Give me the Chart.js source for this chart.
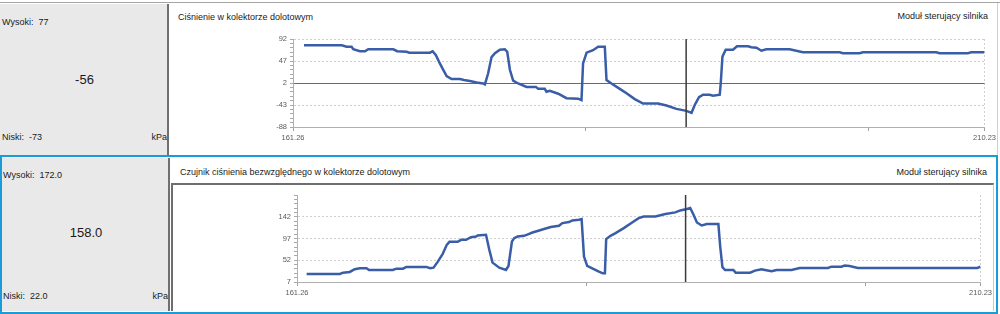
<!DOCTYPE html>
<html>
<head>
<meta charset="utf-8">
<script src="https://cdn.jsdelivr.net/npm/chart.js@4.4.0/dist/chart.umd.min.js"></script>
<style>
  body { margin: 0; width: 1000px; height: 314px; position: relative; background: #fff; overflow: hidden;
         font-family: "Liberation Sans", Arial, sans-serif; color: #1a1a1a; }
  .box { position: absolute; box-sizing: border-box; }
  .txt { position: absolute; font-size: 9px; line-height: 12px; white-space: pre; }
  .big { position: absolute; font-size: 13px; line-height: 16px; text-align: center; }
  canvas { position: absolute; }
</style>
</head>
<body>
<!-- top panel -->
<div class="box" style="left:0;top:2px;width:1000px;height:1px;background:#a5a5a5"></div>
<div class="box" style="left:0;top:4px;width:169px;height:151px;background:#e9e9e9;border-right:2px solid #707070"></div>
<div class="box" style="left:997px;top:3px;width:1px;height:152px;background:#d0d0d0"></div>
<div class="txt" id="topHigh" style="left:2px;top:16px"></div>
<div class="big" id="topValue" style="left:0;width:169px;top:72px"></div>
<div class="txt" id="topLow" style="left:2px;top:131px"></div>
<div class="txt" style="left:0;width:167px;text-align:right;top:131px">kPa</div>
<div class="txt" id="topTitle" style="left:178px;top:11px"></div>
<div class="txt" style="right:12px;top:10px">Moduł sterujący silnika</div>
<canvas id="topChart" width="828" height="122" style="left:170px;top:28px"></canvas>

<!-- bottom panel (selected) -->
<div class="box" style="left:0;top:155px;width:998px;height:159px;border:2px solid #1b9bd7"></div>
<div class="box" style="left:2px;top:158px;width:168px;height:153px;background:#e9e9e9;border-right:2px solid #707070"></div>
<div class="txt" id="botHigh" style="left:3px;top:169px"></div>
<div class="big" id="botValue" style="left:2px;width:168px;top:225px"></div>
<div class="txt" id="botLow" style="left:3px;top:290px"></div>
<div class="txt" style="left:0;width:168px;text-align:right;top:290px">kPa</div>
<div class="txt" id="botTitle" style="left:180px;top:166px"></div>
<div class="txt" style="right:13px;top:166px">Moduł sterujący silnika</div>
<div class="box" style="left:171px;top:183px;width:823px;height:128px;border-top:2px solid #6e6e6e;border-left:2px solid #6e6e6e;border-right:1px solid #c8c8c8"></div>
<canvas id="botChart" width="822" height="124" style="left:172px;top:185px"></canvas>

<script>
// ===== Data =====
const xMin = 161.26;
const xMax = 210.23;
const xTicks = [161.26, 182, 202, 210.23];
const cursorTime = 189.1;
const minorStep = 9;

// Ciśnienie w kolektorze dolotowym
const topTitle = "Ciśnienie w kolektorze dolotowym";
const topStats = ["77", "-56", "-73"]; // high, current, low
const topMajorTicks = [-88, -43, 2, 47, 92];
const topTime = [162.04, 164.71, 165.06, 165.41, 165.53, 166.0, 166.36, 166.59, 168.36, 168.64,
  169.31, 169.49, 170.96, 171.15, 171.38, 171.66, 171.9, 172.14, 172.49, 173.08,
  173.36, 173.79, 174.26, 174.73, 174.85, 175.08, 175.32, 175.56, 175.91, 176.26,
  176.43, 176.62, 176.85, 177.2, 177.8, 178.46, 178.62, 179.09, 179.21, 179.45,
  180.04, 180.63, 181.45, 181.69, 181.8, 182.05, 182.51, 182.87, 183.34, 183.46,
  183.81, 184.4, 184.88, 185.46, 186.05, 187.11, 187.71, 188.41, 189.12, 189.48,
  189.71, 190.01, 190.3, 190.77, 191.0, 191.48, 191.55, 191.67, 191.9, 192.42,
  192.7, 193.48, 193.72, 194.08, 194.43, 194.78, 196.43, 197.37, 199.97, 200.2,
  201.39, 201.62, 206.81, 207.05, 209.05, 209.29, 210.23];
const topValues = [79, 79, 76, 76, 71, 67, 67, 71, 71, 67,
  66, 64, 64, 67, 59, 42, 29, 16, 10, 10,
  8, 6, 3, 1, -1, 22, 55, 63, 70, 71,
  66, 29, 7, 1, -6, -6, -10, -10, -16, -14,
  -20, -29, -30, -33, 42, 64, 69, 76, 76, 8,
  1, -10, -19, -31, -40, -40, -44, -51, -55, -59,
  -43, -27, -22, -22, -24, -22, 1, 56, 70, 70,
  77, 77, 75, 74, 68, 71, 71, 65, 65, 63,
  63, 65, 65, 63, 63, 65, 65];

// Czujnik ciśnienia bezwzględnego w kolektorze dolotowym
const botTitle = "Czujnik ciśnienia bezwzględnego w kolektorze dolotowym";
const botStats = ["172.0", "158.0", "22.0"];
const botMajorTicks = [7, 52, 97, 142];
const botTime = [161.95, 164.33, 164.56, 165.04, 165.4, 165.76, 166.24, 166.42, 168.13, 168.38,
  168.85, 169.09, 170.52, 170.8, 171.04, 171.35, 171.7, 171.99, 172.18, 172.77,
  173.02, 173.37, 173.73, 174.09, 174.2, 174.8, 175.04, 175.27, 175.75, 176.23,
  176.41, 176.66, 176.82, 177.06, 177.53, 177.89, 178.13, 178.61, 178.96, 179.44,
  180.03, 180.27, 180.75, 180.98, 181.46, 181.65, 181.82, 182.05, 182.41, 182.89,
  183.17, 183.32, 183.41, 183.72, 184.08, 184.67, 185.27, 185.74, 186.1, 186.94,
  187.65, 188.36, 188.72, 189.19, 189.43, 189.67, 189.91, 190.26, 190.62, 191.45,
  191.58, 191.74, 191.93, 192.52, 192.69, 193.72, 194.07, 194.54, 194.79, 195.26,
  195.62, 196.69, 197.28, 199.31, 199.54, 200.26, 200.5, 200.85, 201.45, 210.01,
  210.23];
const botValues = [23.6, 23.6, 26.3, 27.8, 33.4, 35.4, 35.4, 31.9, 31.9, 34.6,
  34.6, 38.2, 38.2, 35.4, 36.7, 49.2, 65.2, 83.9, 90.1, 90.1,
  94.2, 94.2, 99.8, 101.1, 103.2, 104.6, 73.5, 47.1, 36.5, 31.9,
  40.2, 90.7, 97.8, 101.1, 102.5, 106.7, 109.4, 113.6, 116.5, 120.6,
  123.3, 128.9, 131.0, 134.3, 135.8, 137.2, 59.6, 40.2, 35.4, 28.4,
  25.0, 25.0, 95.7, 102.5, 108.1, 118.5, 130.2, 139.2, 142.6, 142.6,
  147.6, 151.0, 155.1, 158.0, 160.0, 146.2, 130.2, 123.9, 126.8, 126.8,
  80.3, 37.5, 31.9, 31.9, 26.3, 26.3, 30.5, 33.4, 31.9, 29.2,
  31.9, 31.9, 36.1, 36.1, 38.8, 38.8, 40.9, 40.2, 36.1, 36.1,
  38.8];

// ===== Panel texts =====
function fillTexts(prefix, title, stats) {
  document.getElementById(prefix + "Title").textContent = title;
  document.getElementById(prefix + "High").textContent = "Wysoki:  " + stats[0];
  document.getElementById(prefix + "Value").textContent = stats[1];
  document.getElementById(prefix + "Low").textContent = "Niski:  " + stats[2];
}
fillTexts("top", topTitle, topStats);
fillTexts("bot", botTitle, botStats);

// ===== Charts =====
const tickFont = { family: "Liberation Sans", size: 7.5 };

function makeChart(id, time, values, majors, yMin, yMax, zeroLine, yWidth, padding) {
  const ctx = document.getElementById(id).getContext("2d");
  const series = time.map((t, i) => ({ x: t, y: values[i] }));

  return new Chart(ctx, {
    type: "line",
    data: {
      datasets: [
        {
          data: series,
          borderColor: "#3a5da8",
          borderWidth: 2.5,
          pointRadius: 0,
          tension: 0,
          order: 1,
        },
        {
          // cursor
          data: [{ x: cursorTime, y: yMin }, { x: cursorTime, y: yMax }],
          borderColor: "#3a3a3a",
          borderWidth: 1.5,
          pointRadius: 0,
          order: 0,
        },
      ],
    },
    options: {
      responsive: false,
      animation: false,
      layout: { padding: padding },
      plugins: { legend: { display: false }, tooltip: { enabled: false } },
      scales: {
        x: {
          type: "linear",
          min: xMin,
          max: xMax,
          afterBuildTicks: (scale) => {
            scale.ticks = xTicks.map((v) => ({ value: v }));
          },
          afterFit: (scale) => { scale.height = 20; },
          ticks: {
            autoSkip: false,
            maxRotation: 0,
            padding: 2,
            color: "#5a5a5a",
            font: tickFont,
            callback: (v) => (v === xMin || v === xMax ? v.toFixed(2) : ""),
          },
          grid: {
            color: (c) => (c.tick && c.tick.value === xMax ? "#cfcfcf" : "rgba(0,0,0,0)"),
            tickColor: "#a0a0a0",
            tickLength: 4,
          },
          border: { color: "#b0b0b0", dash: [2, 2] },
        },
        y: {
          min: yMin,
          max: yMax,
          afterBuildTicks: (scale) => {
            const t = [];
            for (let v = yMin; v <= yMax; v += minorStep) t.push({ value: v });
            scale.ticks = t;
          },
          afterFit: (scale) => { scale.width = yWidth; },
          ticks: {
            autoSkip: false,
            padding: 3,
            color: "#5a5a5a",
            font: tickFont,
            callback: (v) => (majors.includes(v) ? String(v) : ""),
          },
          grid: {
            color: (c) => {
              const v = c.tick ? c.tick.value : null;
              if (v === zeroLine) return "#6a6a6a";
              if (majors.includes(v) && v !== yMin) return "#cfcfcf";
              return "rgba(0,0,0,0)";
            },
            tickColor: "#a8a8a8",
            tickLength: 3,
          },
          border: {
            color: "#b0b0b0",
            dash: (c) => (c.tick && c.tick.value === zeroLine ? [] : [2, 2]),
          },
        },
      },
    },
  });
}

makeChart("topChart", topTime, topValues, topMajorTicks, -88, 92, 2, 123,
  { top: 11, right: 12, bottom: 3, left: 0 });
makeChart("botChart", botTime, botValues, botMajorTicks, 7, 187, null, 125,
  { top: 10, right: 11, bottom: 7, left: 0 });
</script>
</body>
</html>
